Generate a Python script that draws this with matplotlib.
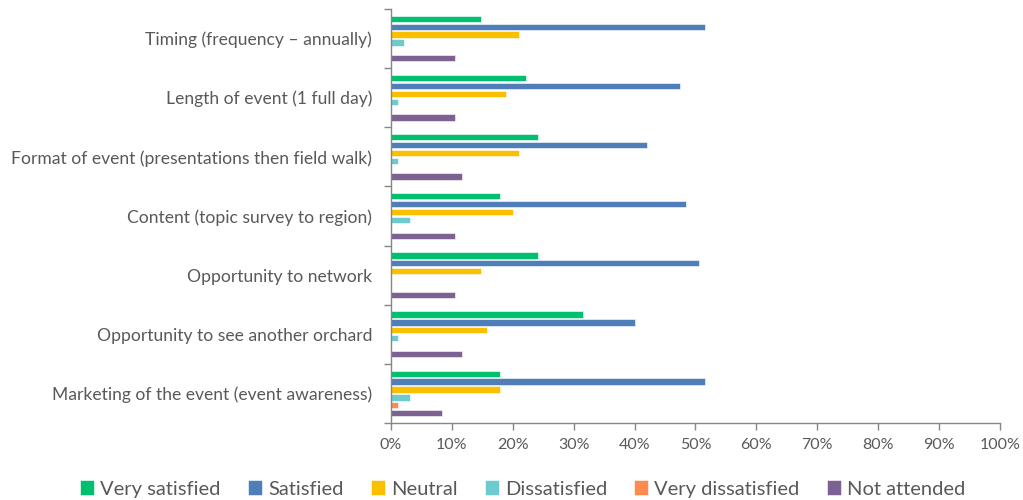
import numpy as np
import matplotlib.pyplot as plt

# categories top to bottom as shown
categories = [
    'Timing (frequency \u2013 annually)',
    'Length of event (1 full day)',
    'Format of event (presentations then field walk)',
    'Content (topic survey to region)',
    'Opportunity to network',
    'Opportunity to see another orchard',
    'Marketing of the event (event awareness)',
]
series = ['Very satisfied', 'Satisfied', 'Neutral', 'Dissatisfied',
          'Very dissatisfied', 'Not attended']

# percentages per category (same order as categories)
very_satisfied = [14.7, 22.1, 24.2, 17.9, 24.2, 31.6, 17.9]
satisfied = [51.6, 47.4, 42.1, 48.4, 50.5, 40.0, 51.6]
neutral = [21.1, 18.9, 21.1, 20.0, 14.7, 15.8, 17.9]
dissatisfied = [2.1, 1.1, 1.1, 3.2, 0.0, 1.1, 3.2]
very_dissatisfied = [0.0, 0.0, 0.0, 0.0, 0.0, 0.0, 1.1]
not_attended = [10.5, 10.5, 11.6, 10.5, 10.5, 11.6, 8.4]

values = [very_satisfied, satisfied, neutral, dissatisfied,
          very_dissatisfied, not_attended]
colors = ['#00C070', '#4F7EB8', '#FAC000', '#6DCBD0', '#FF8A50', '#7E6193']

plt.rcParams['font.family'] = ['Lato', 'DejaVu Sans']
text_color = '#595959'

fig = plt.figure(figsize=(10.23, 5), dpi=100)
ax = fig.add_axes([0.3822, 0.154, 0.5953, 0.828])

n = len(categories)
centers = np.arange(n)[::-1].astype(float)  # top category at the top
pitch = 0.1335
height = pitch * 0.8
for i, (name, vals, c) in enumerate(zip(series, values, colors)):
    offset = (2.5 - i) * pitch
    ax.barh(centers + offset, vals, height=height, color=c, label=name,
            edgecolor='white', linewidth=0.4)

ax.set_xlim(0, 100)
ax.set_ylim(-0.5, n - 0.5)
ax.set_xticks(np.arange(0, 101, 10))
ax.set_xticklabels([f'{v}%' for v in range(0, 101, 10)])
ax.set_yticks(centers)
ax.set_yticklabels(categories)
ax.set_yticks(np.arange(-0.5, n, 1.0), minor=True)

ax.tick_params(axis='y', which='major', length=0, pad=13.5,
               labelsize=12.6, labelcolor=text_color)
ax.tick_params(axis='y', which='minor', length=5, color='#868686', width=1)
ax.tick_params(axis='x', length=5, color='#868686', width=1,
               labelsize=11.5, labelcolor=text_color, pad=6)

for s in ['top', 'right']:
    ax.spines[s].set_visible(False)
for s in ['left', 'bottom']:
    ax.spines[s].set_color('#868686')
    ax.spines[s].set_linewidth(1)

handles, labels = ax.get_legend_handles_labels()
fig.legend(handles, labels, loc='center', bbox_to_anchor=(0.511, 0.022),
           ncol=6, frameon=False, fontsize=14.5, labelcolor=text_color,
           handlelength=0.7, handleheight=0.7, handletextpad=0.3,
           columnspacing=1.35)

fig.savefig('out.png', dpi=100)
